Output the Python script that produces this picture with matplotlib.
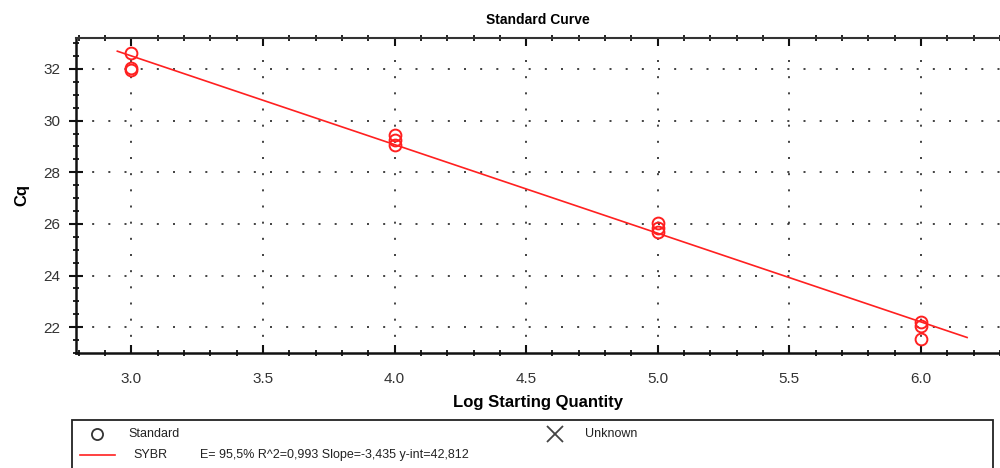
import matplotlib
matplotlib.use("Agg")
import matplotlib.pyplot as plt
from matplotlib.ticker import MultipleLocator, FormatStrFormatter
from matplotlib.patches import Rectangle
from matplotlib.lines import Line2D

plt.rcParams['font.family'] = ['Liberation Sans', 'DejaVu Sans']

# Standard dilution series: log starting quantity and measured Cq
log_qty = [3.0, 3.0, 3.0, 4.0, 4.0, 4.0, 5.0, 5.0, 5.0, 6.0, 6.0, 6.0]
cq = [32.62, 32.02, 31.98, 29.44, 29.25, 29.06, 26.02, 25.84, 25.70, 22.20, 22.05, 21.56]

# Fitted standard curve
slope = -3.435
intercept = 42.812
fit_x = [2.947, 6.175]
fit_label = "E= 95,5% R^2=0,993 Slope=-3,435 y-int=42,812"

fig = plt.figure(figsize=(10, 4.68), dpi=100)
W, H = 1000, 468
ax = fig.add_axes([76 / W, 1 - 353 / H, (1000 - 76) / W, (353 - 38) / H])

red = '#ff2020'
ax.plot(fit_x, [slope * x + intercept for x in fit_x], color=red, lw=1.2, zorder=3)
ax.plot(log_qty, cq, linestyle='none', marker='o', markersize=8.5,
        markerfacecolor='none', markeredgecolor=red, markeredgewidth=1.4, zorder=4)

ax.set_xlim(2.79, 6.30)
ax.set_ylim(21.0, 33.2)
ax.xaxis.set_major_locator(MultipleLocator(0.5))
ax.xaxis.set_minor_locator(MultipleLocator(0.1))
ax.yaxis.set_major_locator(MultipleLocator(2))
ax.yaxis.set_minor_locator(MultipleLocator(0.5))
ax.xaxis.set_major_formatter(FormatStrFormatter('%.1f'))

ax.grid(True, which='major', color='#222222', linestyle=(0, (1.2, 8.5)), linewidth=1.2)
ax.set_axisbelow(True)

for side in ('left', 'bottom'):
    ax.spines[side].set_linewidth(1.8)
    ax.spines[side].set_color('#111111')
ax.spines['top'].set_linewidth(1.5)
ax.spines['top'].set_color('#333333')
ax.spines['right'].set_visible(False)

ax.tick_params(axis='both', which='major', direction='inout', length=10, width=1.5,
               colors='#111111', labelsize=11, labelcolor='#333333', pad=6)
ax.tick_params(axis='both', which='minor', direction='inout', length=5, width=1.3,
               colors='#111111')
ax.tick_params(axis='x', which='major', pad=14)
ax.tick_params(axis='x', which='major', top=True, direction='in', length=6)
ax.tick_params(axis='x', which='minor', top=True)

ax.set_xlabel('Log Starting Quantity', fontsize=12, fontweight='bold', labelpad=6)
ax.set_ylabel('Cq', fontsize=12, fontweight='bold', labelpad=10)
ax.set_title('Standard Curve', fontsize=10, fontweight='bold', pad=10)

# Legend panel beneath the axes
box = Rectangle((72 / W, 1 - 480 / H), (993 - 72) / W, 60 / H, transform=fig.transFigure,
                fill=False, edgecolor='#222222', linewidth=1.3, clip_on=False)
fig.add_artist(box)

fig.add_artist(Line2D([97 / W], [1 - 434 / H], transform=fig.transFigure, marker='o',
                      markersize=8, markerfacecolor='none', markeredgecolor='#333333',
                      markeredgewidth=1.3, linestyle='none'))
fig.text(128 / W, 1 - 434 / H, 'Standard', fontsize=9, va='center', color='#222222')
fig.add_artist(Line2D([555 / W], [1 - 434 / H], transform=fig.transFigure, marker='x',
                      markersize=11, markeredgecolor='#444444', markeredgewidth=1.3,
                      linestyle='none'))
fig.text(585 / W, 1 - 434 / H, 'Unknown', fontsize=9, va='center', color='#222222')
fig.add_artist(Line2D([80 / W, 115 / W], [1 - 455 / H, 1 - 455 / H],
                      transform=fig.transFigure, color=red, lw=1.2))
fig.text(133 / W, 1 - 455 / H, 'SYBR', fontsize=9, va='center', color='#222222')
fig.text(200 / W, 1 - 455 / H, fit_label, fontsize=9, va='center', color='#222222')

fig.savefig('out.png', dpi=100)
